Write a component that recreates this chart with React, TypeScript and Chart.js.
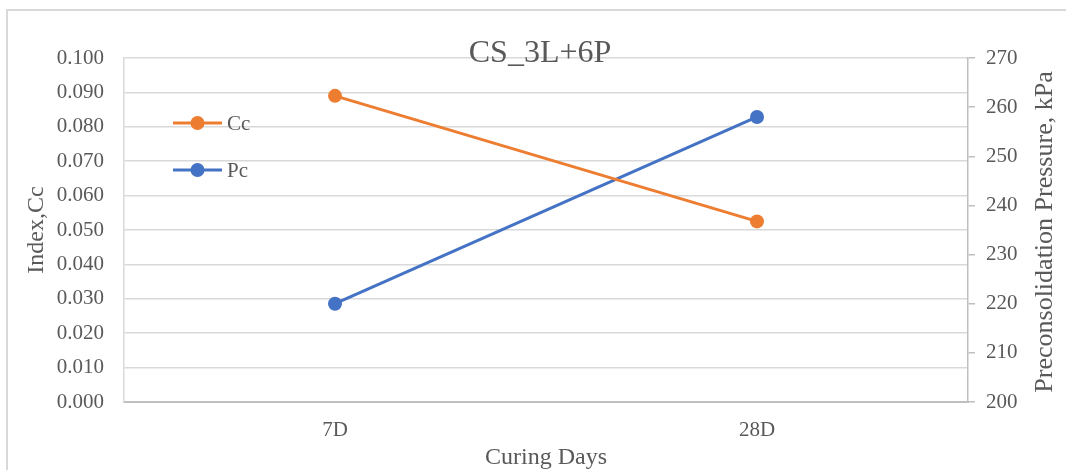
import React, { useEffect, useRef } from "react";
import { Chart, registerables } from "chart.js";

Chart.register(...registerables);

const categories = ["7D", "28D"];
const ccValues = [0.089, 0.0525];
const pcValues = [220, 258];
const chartTitle = "CS_3L+6P";
const leftAxisTitle = "Index,Cc";
const rightAxisTitle = "Preconsolidation Pressure, kPa";
const xAxisTitle = "Curing Days";
const seriesNames = ["Cc", "Pc"];
const seriesColors = ["#ED7D31", "#4472C4"];

const FONT = "'Liberation Serif', 'Times New Roman', serif";
const TEXT = "#595959";

const decorPlugin = {
  id: "decor",
  afterDraw(chart: any) {
    const ctx = chart.ctx as CanvasRenderingContext2D;
    const area = chart.chartArea;
    ctx.save();
    // outer frame
    ctx.strokeStyle = "#d9d9d9";
    ctx.lineWidth = 2;
    ctx.strokeRect(7, 10, 1080, 480);

    ctx.fillStyle = TEXT;
    // chart title
    ctx.font = `32px ${FONT}`;
    ctx.textAlign = "center";
    ctx.textBaseline = "alphabetic";
    ctx.fillText(chartTitle, (area.left + area.right) / 2 - 6, area.top + 4);

    // x axis title
    ctx.font = `24px ${FONT}`;
    ctx.fillText(xAxisTitle, (area.left + area.right) / 2, 464);

    // left axis title
    const midY = (area.top + area.bottom) / 2;
    ctx.save();
    ctx.translate(43, midY);
    ctx.rotate(-Math.PI / 2);
    ctx.font = `24px ${FONT}`;
    ctx.textAlign = "center";
    ctx.fillText(leftAxisTitle, 0, 0);
    ctx.restore();

    // right axis title
    ctx.save();
    ctx.translate(1052, midY + 2);
    ctx.rotate(-Math.PI / 2);
    ctx.font = `26px ${FONT}`;
    ctx.textAlign = "center";
    ctx.fillText(rightAxisTitle, 0, 0);
    ctx.restore();

    // legend
    const legendX = area.left + 49;
    const legendYs = [area.top + 65, area.top + 112];
    seriesNames.forEach((name, i) => {
      const y = legendYs[i];
      ctx.strokeStyle = seriesColors[i];
      ctx.lineWidth = 3;
      ctx.beginPath();
      ctx.moveTo(legendX, y);
      ctx.lineTo(legendX + 49, y);
      ctx.stroke();
      ctx.fillStyle = seriesColors[i];
      ctx.beginPath();
      ctx.arc(legendX + 24.5, y, 7, 0, Math.PI * 2);
      ctx.fill();
      ctx.fillStyle = TEXT;
      ctx.font = `21px ${FONT}`;
      ctx.textAlign = "left";
      ctx.textBaseline = "middle";
      ctx.fillText(name, legendX + 54, y + 1);
    });
    ctx.restore();
  },
};

export default function App() {
  const canvasRef = useRef<HTMLCanvasElement | null>(null);

  useEffect(() => {
    if (!canvasRef.current) return;
    const chart = new Chart(canvasRef.current, {
      type: "line",
      data: {
        labels: categories,
        datasets: [
          {
            label: seriesNames[0],
            data: ccValues,
            yAxisID: "y",
            borderColor: seriesColors[0],
            backgroundColor: seriesColors[0],
            borderWidth: 3,
            pointRadius: 7,
            pointBorderWidth: 0,
            pointBackgroundColor: seriesColors[0],
          },
          {
            label: seriesNames[1],
            data: pcValues,
            yAxisID: "y1",
            borderColor: seriesColors[1],
            backgroundColor: seriesColors[1],
            borderWidth: 3,
            pointRadius: 7,
            pointBorderWidth: 0,
            pointBackgroundColor: seriesColors[1],
          },
        ],
      },
      options: {
        responsive: false,
        animation: false,
        layout: { padding: { top: 58, left: 0, right: 0, bottom: 0 } },
        plugins: {
          legend: { display: false },
          title: { display: false },
          tooltip: { enabled: false },
        },
        scales: {
          x: {
            offset: true,
            afterFit: (s: any) => {
              s.height = 68;
            },
            grid: { display: false, drawTicks: false },
            border: { display: true, color: "#bfbfbf", width: 2 },
            ticks: {
              padding: 16,
              color: TEXT,
              font: { family: FONT, size: 21 },
            },
          },
          y: {
            position: "left",
            min: 0,
            max: 0.1,
            afterFit: (s: any) => {
              s.width = 124;
            },
            grid: { color: "#d9d9d9", lineWidth: 1.5, drawTicks: false },
            border: { display: true, color: "#d9d9d9", width: 1.5 },
            ticks: {
              stepSize: 0.01,
              padding: 20,
              color: TEXT,
              font: { family: FONT, size: 21 },
              callback: (v: any) => Number(v).toFixed(3),
            },
          },
          y1: {
            position: "right",
            min: 200,
            max: 270,
            afterFit: (s: any) => {
              s.width = 98;
            },
            grid: {
              drawOnChartArea: false,
              drawTicks: true,
              tickLength: 7,
              color: "#bfbfbf",
              lineWidth: 1.5,
            },
            border: { display: true, color: "#bfbfbf", width: 1.5 },
            ticks: {
              stepSize: 10,
              padding: 11,
              color: TEXT,
              font: { family: FONT, size: 21 },
            },
          },
        },
      },
      plugins: [decorPlugin],
    });
    return () => chart.destroy();
  }, []);

  return (
    <div style={{ position: "absolute", left: 0, top: 0, width: 1066, height: 470, background: "#fff" }}>
      <canvas ref={canvasRef} width={1066} height={470} style={{ display: "block" }} />
    </div>
  );
}
